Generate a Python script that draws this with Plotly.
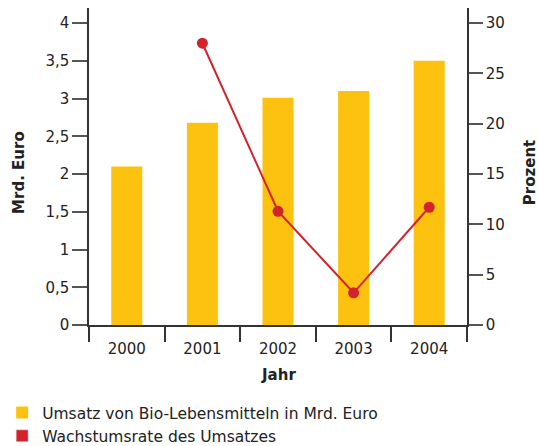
import plotly.graph_objects as go

years = ["2000", "2001", "2002", "2003", "2004"]
umsatz = [2.1, 2.68, 3.01, 3.1, 3.5]
wachstum_years = ["2001", "2002", "2003", "2004"]
wachstum = [28.0, 11.3, 3.2, 11.7]
left_ticks = [0, 0.5, 1, 1.5, 2, 2.5, 3, 3.5, 4]
right_ticks = [0, 5, 10, 15, 20, 25, 30]

YELLOW = "#FDC20F"
RED = "#D2232A"
AXIS = "#333333"
TEXT = "#222222"
FONT = "DejaVu Sans"

fig = go.Figure()
fig.add_trace(go.Bar(
    x=years, y=umsatz, marker=dict(color=YELLOW, line=dict(width=0)),
    width=0.41, name="Umsatz von Bio-Lebensmitteln in Mrd. Euro", yaxis="y",
))
fig.add_trace(go.Scatter(
    x=wachstum_years, y=wachstum, mode="lines+markers",
    line=dict(color=RED, width=2), marker=dict(color=RED, size=11),
    yaxis="y2", showlegend=False, name="Wachstumsrate des Umsatzes",
))
# legend-only entry (square swatch) for the growth-rate series
fig.add_trace(go.Bar(
    x=[None], y=[None], marker=dict(color=RED), name="Wachstumsrate des Umsatzes",
    yaxis="y",
))

fig.update_layout(
    width=538, height=446,
    margin=dict(l=89, r=71, t=8, b=120.5, autoexpand=False),
    paper_bgcolor="white", plot_bgcolor="white",
    barmode="overlay",
    separators=",.",
    font=dict(family=FONT, size=15, color=TEXT),
    xaxis=dict(
        type="category", range=[-0.5, 4.5], showline=True, linecolor=AXIS, linewidth=1.5,
        ticks="outside", tickson="boundaries", ticklen=15, tickwidth=1.5, tickcolor=AXIS,
        showgrid=False, zeroline=False, tickfont=dict(size=15, color=TEXT),
        tickangle=0, automargin=False, ticklabelstandoff=9,
    ),
    yaxis=dict(
        range=[0, 4.2], tickvals=left_ticks, showline=True, linecolor=AXIS, linewidth=1.5,
        ticks="outside", ticklen=15, tickwidth=1.5, tickcolor="#555555",
        showgrid=False, zeroline=False, tickfont=dict(size=15, color=TEXT), automargin=False,
    ),
    yaxis2=dict(
        range=[0, 31.5], tickvals=right_ticks, overlaying="y", side="right",
        showline=True, linecolor=AXIS, linewidth=1.5,
        ticks="outside", ticklen=14, tickwidth=1.5, tickcolor="#555555",
        showgrid=False, zeroline=False, tickfont=dict(size=15, color=TEXT), automargin=False,
    ),
    showlegend=True,
    legend=dict(
        xref="container", yref="container", x=0.004, y=0.112, xanchor="left", yanchor="top",
        orientation="v", traceorder="normal", font=dict(size=15.5, color=TEXT), itemclick=False,
        bgcolor="rgba(0,0,0,0)", tracegroupgap=0,
    ),
    annotations=[
        dict(text="<b>Mrd. Euro</b>", xref="paper", yref="paper", x=-0.185, y=0.48,
             xanchor="center", yanchor="middle", textangle=-90, showarrow=False,
             font=dict(size=15, color=TEXT)),
        dict(text="<b>Prozent</b>", xref="paper", yref="paper", x=1.165, y=0.48,
             xanchor="center", yanchor="middle", textangle=-90, showarrow=False,
             font=dict(size=15, color=TEXT)),
        dict(text="<b>Jahr</b>", xref="paper", yref="paper", x=0.5, y=-0.157,
             xanchor="center", yanchor="middle", showarrow=False,
             font=dict(size=15, color=TEXT)),
    ],
)

fig.write_html(
    "out.html",
    config={"displayModeBar": False},
    post_script="document.body.style.margin='0px';document.body.style.overflow='hidden';",
)
